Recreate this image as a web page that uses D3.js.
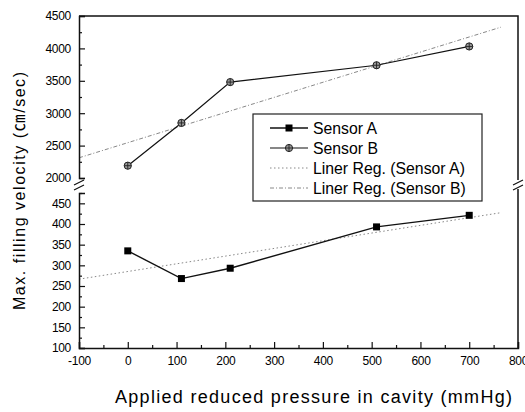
<!doctype html>
<html lang="en">
<head>
<meta charset="UTF-8">
<title>Max. filling velocity</title>
<script src="https://cdn.jsdelivr.net/npm/d3@7"></script>
<style>
  body { margin: 0; background: #fff; }
  text { font-family: "Liberation Sans", Arial, sans-serif; }
</style>
</head>
<body>
<svg width="525" height="412"></svg>
<script>
// data
const pressure = [0, 110, 210, 510, 700];
const sensorA = [335, 268, 293, 393, 421];
const sensorB = [2190, 2850, 3480, 3740, 4030];
const xTicks = [-100, 0, 100, 200, 300, 400, 500, 600, 700, 800];
const yHiTicks = [2000, 2500, 3000, 3500, 4000, 4500];
const yLoTicks = [100, 150, 200, 250, 300, 350, 400, 450];
const legendLabels = ["Sensor A", "Sensor B", "Liner Reg. (Sensor A)", "Liner Reg. (Sensor B)"];

const svg = d3.select("svg");
const pl = 79, pr = 518, pt = 16, pb = 348;

const x = d3.scaleLinear().domain([-100, 800]).range([pl, pr]);
const yHi = d3.scaleLinear().domain([2000, 4500]).range([178, pt]);
const yLo = d3.scaleLinear().domain([100, 475]).range([pb, 193]);

// least squares fit
function fit(xs, ys) {
  const mx = d3.mean(xs), my = d3.mean(ys);
  let sxy = 0, sxx = 0;
  xs.forEach((v, i) => { sxy += (v - mx) * (ys[i] - my); sxx += (v - mx) * (v - mx); });
  const b = sxy / sxx;
  return t => my + b * (t - mx);
}
const regA = fit(pressure, sensorA);
const regB = fit(pressure, sensorB);
const regX = [-100, 765];

// regression lines
svg.append("line")
  .attr("x1", x(regX[0])).attr("y1", yLo(regA(regX[0])))
  .attr("x2", x(regX[1])).attr("y2", yLo(regA(regX[1])))
  .attr("stroke", "#888").attr("stroke-width", 1).attr("stroke-dasharray", "1.5,2.5");
svg.append("line")
  .attr("x1", x(regX[0])).attr("y1", yHi(regB(regX[0])))
  .attr("x2", x(regX[1])).attr("y2", yHi(regB(regX[1])))
  .attr("stroke", "#888").attr("stroke-width", 1).attr("stroke-dasharray", "4,2,1,2");

// data lines
const lineA = d3.line().x((d, i) => x(pressure[i])).y(d => yLo(d));
const lineB = d3.line().x((d, i) => x(pressure[i])).y(d => yHi(d));
svg.append("path").attr("d", lineA(sensorA)).attr("fill", "none").attr("stroke", "#111").attr("stroke-width", 1.4);
svg.append("path").attr("d", lineB(sensorB)).attr("fill", "none").attr("stroke", "#111").attr("stroke-width", 1.2);

function squareMark(g, cx, cy) {
  g.append("rect").attr("x", cx - 3.5).attr("y", cy - 3.5).attr("width", 7).attr("height", 7).attr("fill", "#000");
}
function circleMark(g, cx, cy) {
  g.append("circle").attr("cx", cx).attr("cy", cy).attr("r", 3.6).attr("fill", "#999").attr("stroke", "#222").attr("stroke-width", 1);
  g.append("path").attr("d", `M${cx - 3.6},${cy}H${cx + 3.6}M${cx},${cy - 3.6}V${cy + 3.6}`).attr("stroke", "#222").attr("stroke-width", 0.9);
}
const marks = svg.append("g");
sensorA.forEach((v, i) => squareMark(marks, x(pressure[i]), yLo(v)));
sensorB.forEach((v, i) => circleMark(marks, x(pressure[i]), yHi(v)));

// frame
const axisCol = "#111";
svg.append("path")
  .attr("d", `M${pl},${pt}H${pr}V180M${pr},189V${pb}`)
  .attr("fill", "none").attr("stroke", axisCol).attr("stroke-width", 1.5);

// axes
const fmt = d => String(d);

svg.append("g").attr("transform", `translate(0,${pb})`)
  .call(d3.axisBottom(x).tickValues(xTicks).tickFormat(fmt).tickSize(-6).tickPadding(8.5));
svg.append("g").attr("transform", `translate(0,${pb})`)
  .call(d3.axisBottom(x).tickValues(d3.range(-50, 800, 100)).tickFormat("").tickSize(-3))
  .select(".domain").remove();

svg.append("g").attr("transform", `translate(${pl},0)`)
  .call(d3.axisLeft(yHi).tickValues(yHiTicks).tickFormat(fmt).tickSize(-6).tickPadding(8));
svg.append("g").attr("transform", `translate(${pl},0)`)
  .call(d3.axisLeft(yHi).tickValues(d3.range(2250, 4500, 500)).tickFormat("").tickSize(-3))
  .select(".domain").remove();

svg.append("g").attr("transform", `translate(${pl},0)`)
  .call(d3.axisLeft(yLo).tickValues(yLoTicks).tickFormat(fmt).tickSize(-6).tickPadding(8));
svg.append("g").attr("transform", `translate(${pl},0)`)
  .call(d3.axisLeft(yLo).tickValues(d3.range(125, 476, 50)).tickFormat("").tickSize(-3))
  .select(".domain").remove();

svg.selectAll(".tick line").attr("stroke", axisCol).attr("stroke-width", 1.2);
svg.selectAll(".domain").attr("stroke", axisCol).attr("stroke-width", 1.5);
svg.selectAll(".tick text").attr("font-family", "'Liberation Sans', Arial, sans-serif")
  .attr("font-size", 12).attr("fill", "#000").style("letter-spacing", "-0.3px");

// break marks
function breakMark(cx, cy) {
  svg.append("rect").attr("x", cx - 5).attr("y", cy - 4).attr("width", 10).attr("height", 8).attr("fill", "#fff");
  [-2.5, 2.5].forEach(o => {
    svg.append("line").attr("x1", cx - 5).attr("y1", cy + o + 2.5).attr("x2", cx + 5).attr("y2", cy + o - 2.5)
      .attr("stroke", axisCol).attr("stroke-width", 1.2);
  });
}
breakMark(pl, 185);
breakMark(pr, 185);

// legend
const lg = svg.append("g").attr("transform", "translate(253,114)");
lg.append("rect").attr("width", 229).attr("height", 87).attr("fill", "#fff")
  .attr("stroke", "#222").attr("stroke-width", 1.2);
legendLabels.forEach((lab, i) => {
  const yy = 14 + i * 20;
  const ln = lg.append("line").attr("x1", 17).attr("x2", 55).attr("y1", yy).attr("y2", yy);
  if (i === 0) { ln.attr("stroke", "#111").attr("stroke-width", 1.4); squareMark(lg, 36, yy); }
  if (i === 1) { ln.attr("stroke", "#111").attr("stroke-width", 1.2); circleMark(lg, 36, yy); }
  if (i === 2) ln.attr("stroke", "#888").attr("stroke-dasharray", "1.5,2.5");
  if (i === 3) ln.attr("stroke", "#888").attr("stroke-dasharray", "4,2,1,2");
  lg.append("text").attr("x", 60).attr("y", yy + 6).attr("font-size", 15.8).attr("fill", "#000").text(lab);
});

// axis titles
svg.append("text").attr("x", 115).attr("y", 403)
  .attr("font-size", 18).attr("fill", "#000")
  .attr("textLength", 397).attr("lengthAdjust", "spacing")
  .text("Applied reduced pressure in cavity (mmHg)");
const yt = svg.append("text").attr("transform", "translate(25,310) rotate(-90)")
  .attr("font-size", 16).attr("fill", "#000")
  .attr("textLength", 238).attr("lengthAdjust", "spacing");
yt.append("tspan").text("Max. filling velocity (");
yt.append("tspan").attr("font-family", "'Noto Sans CJK KR', 'Noto Sans CJK SC', sans-serif")
  .attr("font-size", 17).text("㎝");
yt.append("tspan").text("/sec)");
</script>
</body>
</html>
